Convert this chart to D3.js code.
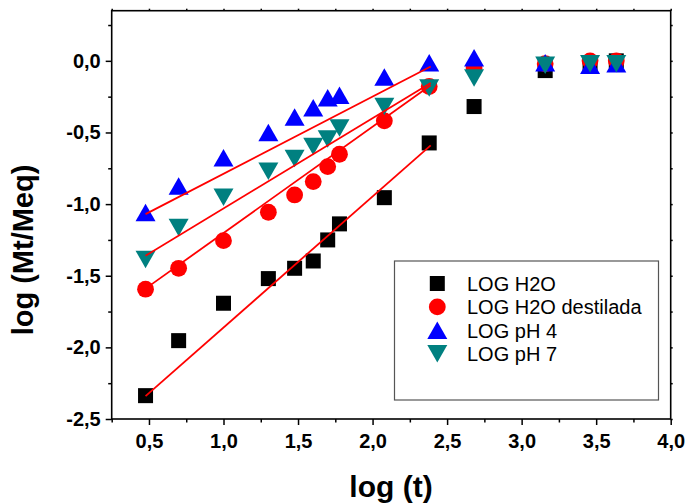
<!DOCTYPE html>
<html>
<head>
<meta charset="utf-8">
<script src="https://cdn.jsdelivr.net/npm/d3@7"></script>
<style>
  html, body { margin: 0; padding: 0; background: #fff; }
  svg { display: block; font-family: "Liberation Sans", Arial, sans-serif; }
</style>
</head>
<body>
<svg id="chart" width="689" height="504"></svg>
<script>
// ---- data ----
const logT = [0.477, 0.699, 1.0, 1.301, 1.477, 1.602, 1.699, 1.778, 2.079, 2.380, 2.681, 3.158, 3.459, 3.635];
const logH2O = [-2.337, -1.953, -1.692, -1.520, -1.448, -1.397, -1.250, -1.138, -0.955, -0.573, -0.319, -0.068, -0.02, 0.0];
const logH2ODestilada = [-1.594, -1.448, -1.255, -1.057, -0.936, -0.843, -0.738, -0.652, -0.419, -0.179, -0.05, -0.02, 0.0, 0.0];
const logPH4 = [-1.058, -0.873, -0.677, -0.501, -0.392, -0.328, -0.258, -0.240, -0.113, -0.014, 0.022, -0.013, -0.03, -0.02];
const logPH7 = [-1.386, -1.163, -0.953, -0.770, -0.682, -0.598, -0.545, -0.468, -0.319, -0.189, -0.119, -0.03, -0.02, -0.02];
const seriesNames = ["LOG H2O", "LOG H2O destilada", "LOG pH 4", "LOG pH 7"];
// linear fit lines (start / end)
const fitX = [0.477, 2.39];
const fitH2O = [-2.34, -0.59];
const fitH2ODestilada = [-1.59, -0.17];
const fitPH4 = [-1.07, -0.04];
const fitPH7 = [-1.36, -0.155];
const xTicks = [0.5, 1.0, 1.5, 2.0, 2.5, 3.0, 3.5, 4.0];
const yTicks = [-2.5, -2.0, -1.5, -1.0, -0.5, 0.0];
const xMinor = [0.25, 0.75, 1.25, 1.75, 2.25, 2.75, 3.25, 3.75];
const yMinor = [-2.25, -1.75, -1.25, -0.75, -0.25, 0.25];
const xLabel = "log (t)";
const yLabel = "log (Mt/Meq)";

// ---- layout ----
const svg = d3.select("#chart");
const L = 111.7, R = 670.7, T = 10.7, B = 419;
const x = d3.scaleLinear().domain([0.25, 4.0]).range([L, R]);
const y = d3.scaleLinear().domain([-2.5, 0.35]).range([B, T]);
const fmt = d => (d < 0 ? "-" : "") + Math.abs(d).toFixed(1).replace(".", ",");

const colors = ["#000000", "#ff0000", "#0000ff", "#008080"];
const shapes = ["square", "circle", "up", "down"];

function marker(g, shape, color, cx, cy, s) {
  s = s || 1;
  if (shape === "square") {
    const a = 15 * s;
    g.append("rect").attr("x", cx - a / 2).attr("y", cy - a / 2).attr("width", a).attr("height", a).attr("fill", color);
  } else if (shape === "circle") {
    g.append("circle").attr("cx", cx).attr("cy", cy).attr("r", 8.4 * s).attr("fill", color);
  } else {
    const w = 20 * s, h = 17.5 * s;
    const pts = shape === "up"
      ? [[cx, cy - h / 2], [cx - w / 2, cy + h / 2], [cx + w / 2, cy + h / 2]]
      : [[cx, cy + h / 2], [cx - w / 2, cy - h / 2], [cx + w / 2, cy - h / 2]];
    g.append("polygon").attr("points", pts.map(p => p.join(",")).join(" ")).attr("fill", color);
  }
}

// axes
const gx = svg.append("g").attr("transform", `translate(0,${B})`)
  .call(d3.axisBottom(x).tickValues(xTicks).tickSize(6).tickSizeOuter(0).tickFormat(fmt));
gx.selectAll("text").attr("font-size", 20).attr("font-weight", "bold").attr("fill", "#000").attr("dy", "1.0em");
const gxm = svg.append("g").attr("transform", `translate(0,${B})`)
  .call(d3.axisBottom(x).tickValues(xMinor).tickSize(3.5).tickSizeOuter(0).tickFormat(""));
gxm.select(".domain").remove();

const gy = svg.append("g").attr("transform", `translate(${L},0)`)
  .call(d3.axisLeft(y).tickValues(yTicks).tickSize(6).tickSizeOuter(0).tickFormat(fmt));
gy.selectAll("text").attr("font-size", 20).attr("font-weight", "bold").attr("fill", "#000").attr("dx", "-0.1em");
const gym = svg.append("g").attr("transform", `translate(${L},0)`)
  .call(d3.axisLeft(y).tickValues(yMinor).tickSize(3.5).tickSizeOuter(0).tickFormat(""));
gym.select(".domain").remove();

// top / right mirrored small ticks
const gt = svg.append("g").attr("transform", `translate(0,${T})`)
  .call(d3.axisTop(x).tickValues(xTicks.concat(xMinor)).tickSize(2).tickSizeOuter(0).tickFormat(""));
gt.select(".domain").remove();
const gr = svg.append("g").attr("transform", `translate(${R},0)`)
  .call(d3.axisRight(y).tickValues(yTicks.concat(yMinor)).tickSize(2).tickSizeOuter(0).tickFormat(""));
gr.select(".domain").remove();

svg.selectAll(".tick line").attr("stroke", "#000").attr("stroke-width", 1.5);
svg.selectAll(".domain").remove();
svg.append("rect").attr("x", L).attr("y", T).attr("width", R - L).attr("height", B - T)
  .attr("fill", "none").attr("stroke", "#000").attr("stroke-width", 1.6);

// points
const all = [logH2O, logH2ODestilada, logPH4, logPH7];
const gp = svg.append("g");
all.forEach((vals, i) => {
  vals.forEach((v, j) => marker(gp, shapes[i], colors[i], x(logT[j]), y(v)));
});

// fit lines
const fits = [fitH2O, fitH2ODestilada, fitPH4, fitPH7];
const line = d3.line().x(d => x(d[0])).y(d => y(d[1]));
fits.forEach(f => {
  svg.append("path").attr("d", line(fitX.map((xv, k) => [xv, f[k]])))
    .attr("fill", "none").attr("stroke", "#ff0000").attr("stroke-width", 1.8);
});

// legend
const lg = svg.append("g");
lg.append("rect").attr("x", 394.5).attr("y", 261).attr("width", 264).attr("height", 139)
  .attr("fill", "#fff").attr("stroke", "#555").attr("stroke-width", 1.2);
seriesNames.forEach((n, i) => {
  const cy = 283.5 + i * 23.4;
  marker(lg, shapes[i], colors[i], 437.3, cy, 1.0);
  lg.append("text").attr("x", 467).attr("y", cy).attr("dy", "0.36em")
    .attr("font-size", 20).attr("fill", "#000").text(n);
});

// axis titles
svg.append("text").attr("x", 391).attr("y", 497).attr("text-anchor", "middle")
  .attr("font-size", 30).attr("font-weight", "bold").text(xLabel);
svg.append("text").attr("transform", "translate(33,250) rotate(-90)").attr("text-anchor", "middle")
  .attr("font-size", 29).attr("font-weight", "bold").text(yLabel);
</script>
</body>
</html>
